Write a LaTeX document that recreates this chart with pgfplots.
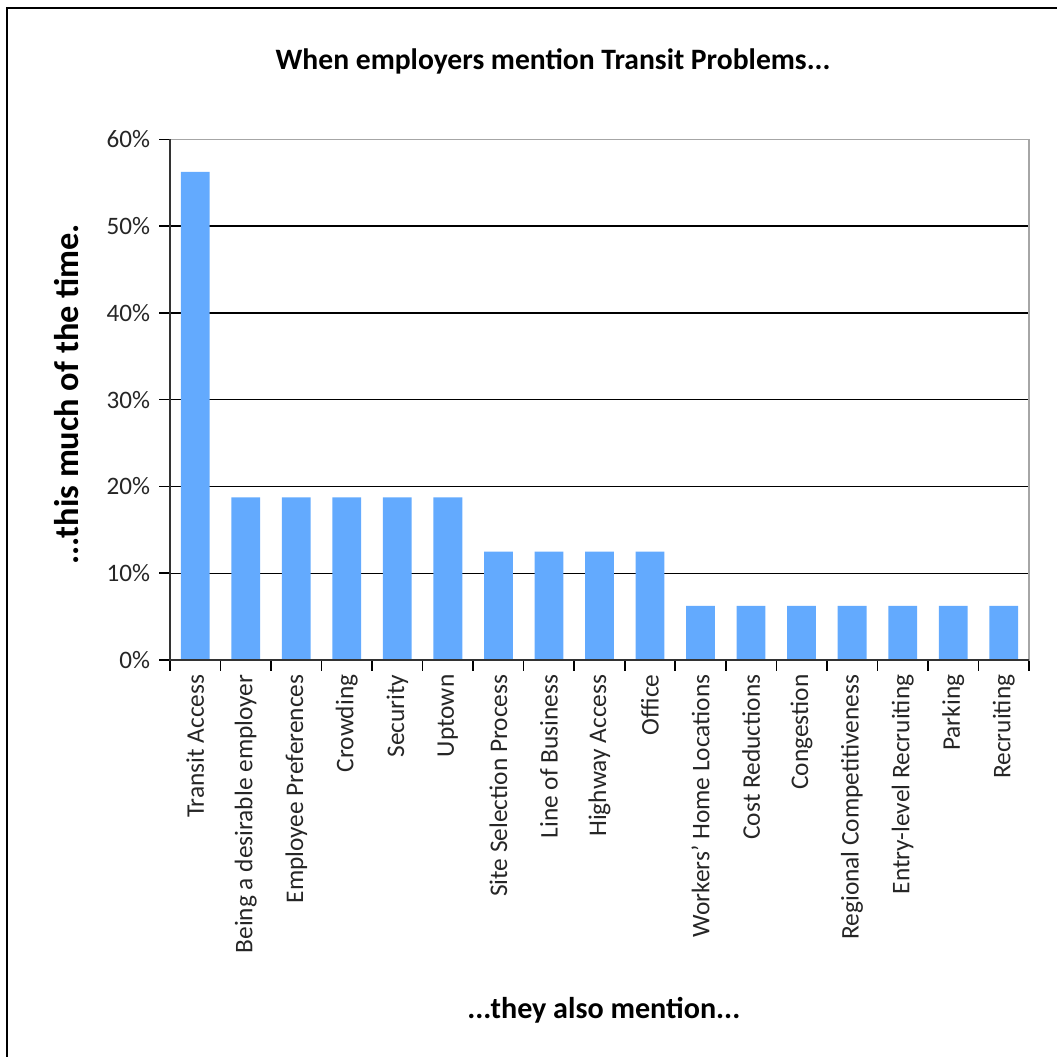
\documentclass[border=0pt]{standalone}
\usepackage{pgfplots}
\pgfplotsset{compat=1.18}
\usepackage{fontspec}
\setmainfont{Carlito}
\definecolor{barblue}{RGB}{99,170,254}
\begin{document}
\begin{tikzpicture}
\begin{axis}[
  scale only axis,
  width=325pt, height=197pt,
  xmin=-0.5, xmax=16.5,
  ymin=0, ymax=60,
  ytick={0,10,...,60},
  yticklabel={\pgfmathprintnumber{\tick}\%},
  /pgf/number format/assume math mode=true,
  xtick={0,...,16},
  xticklabels={Transit Access,Being a desirable employer,Employee Preferences,Crowding,Security,Uptown,Site Selection Process,Line of Business,Highway Access,Office,Workers' Home Locations,Cost Reductions,Congestion,Regional Competitiveness,Entry-level Recruiting,Parking,Recruiting},
  major x tick style={draw=none},
  minor xtick={-0.5,0.5,...,16.5},
  minor tick length=4pt,
  major tick length=4pt,
  tick align=outside,
  xtick pos=bottom, ytick pos=left,
  xticklabel style={rotate=90, anchor=east, font=\fontsize{9.6}{10}\selectfont, xshift=2pt, text=black!85},
  yticklabel style={font=\fontsize{9.5}{10}\selectfont, text=black!85},
  ymajorgrids,
  grid style={black, line width=0.5pt},
  axis line style={draw=gray!70},
  tick style={black, line width=0.6pt},
  title={When employers mention Transit Problems...},
  title style={font=\bfseries\fontsize{11.2}{13}\selectfont, at={(axis description cs:0.446,1.1185)}, anchor=center},
  ylabel={...this much of the time.},
  ylabel style={font=\bfseries\fontsize{13}{15}\selectfont, at={(axis description cs:-0.12,0.51)}, anchor=center},
  xlabel={...they also mention...},
  xlabel style={font=\bfseries\fontsize{11.4}{13}\selectfont, at={(axis description cs:0.505,-0.672)}, anchor=center},
  clip=false,
]
\addplot[ybar, bar width=0.57, fill=barblue, draw=none] coordinates {
(0,56.25) (1,18.75) (2,18.75) (3,18.75) (4,18.75) (5,18.75)
(6,12.5) (7,12.5) (8,12.5) (9,12.5)
(10,6.25) (11,6.25) (12,6.25) (13,6.25) (14,6.25) (15,6.25) (16,6.25)};
\draw[black!80, line width=0.8pt] (axis description cs:0,1) -- (axis description cs:0,0) -- (axis description cs:1,0);
\end{axis}
\draw[black, line width=0.8pt] (-61.7pt,246.7pt) rectangle (336.5pt,-150.5pt);
\pgfresetboundingbox
\useasboundingbox (-64.3pt,249.7pt) rectangle (335.6pt,-150.2pt);
\end{tikzpicture}
\end{document}
